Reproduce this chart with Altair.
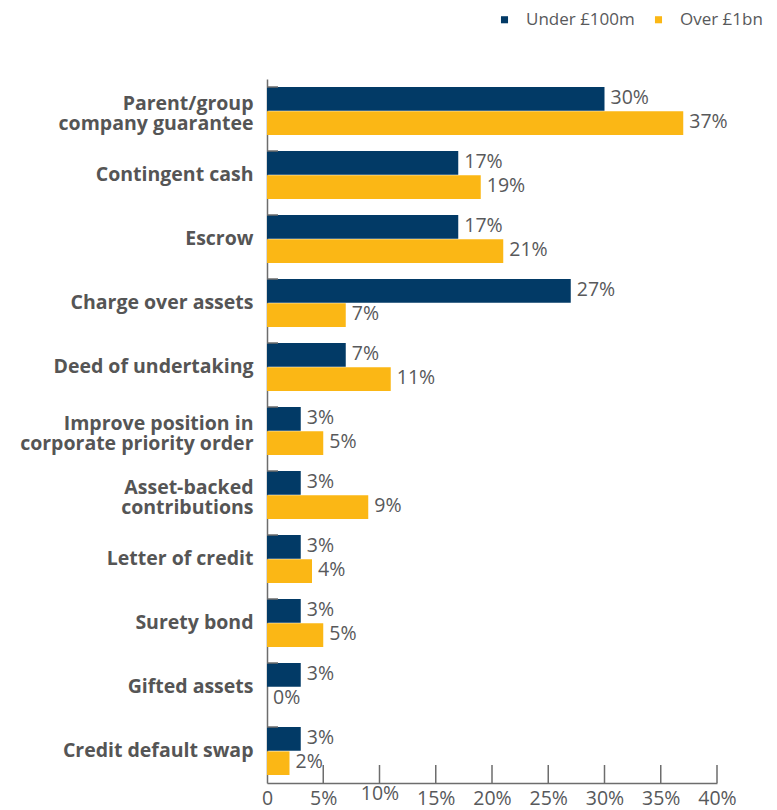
import altair as alt
import pandas as pd

categories = [
    "Parent/group|company guarantee",
    "Contingent cash",
    "Escrow",
    "Charge over assets",
    "Deed of undertaking",
    "Improve position in|corporate priority order",
    "Asset-backed|contributions",
    "Letter of credit",
    "Surety bond",
    "Gifted assets",
    "Credit default swap",
]
series_names = ["Under £100m", "Over £1bn"]
under_100m = [30, 17, 17, 27, 7, 3, 3, 3, 3, 3, 3]
over_1bn = [37, 19, 21, 7, 11, 5, 9, 4, 5, 0, 2]
x_ticks = [0, 5, 10, 15, 20, 25, 30, 35, 40]
colors = ["#023a66", "#fbb715"]

FONT = "Open Sans"
TEXT_GRAY = "#58595b"

rows = []
for c, a, b in zip(categories, under_100m, over_1bn):
    rows.append({"cat": c, "series": series_names[0], "value": a, "label": f"{a}%"})
    rows.append({"cat": c, "series": series_names[1], "value": b, "label": f"{b}%"})
df = pd.DataFrame(rows)
cat_df = pd.DataFrame({"cat": categories})
tick_df = pd.DataFrame({"value": x_ticks[1:]})

y_enc = alt.Y(
    "cat:N",
    sort=categories,
    scale=alt.Scale(paddingInner=0.25, paddingOuter=0.125),
    axis=alt.Axis(
        title=None,
        ticks=False,
        domain=True,
        domainColor="#6d6d6d",
        domainWidth=1.5,
        labelExpr="split(datum.label, '|')",
        labelFont=FONT,
        labelFontSize=19.5,
        labelFontWeight="bold",
        labelColor="#555555",
        labelPadding=14,
        labelLimit=400,
        labelLineHeight=20,
        labelOffset={"condition": {"test": "indexof(datum.label, '|') >= 0", "value": -7}, "value": 0},
    ),
)
x_enc = alt.X(
    "value:Q",
    scale=alt.Scale(domain=[0, 40], nice=False),
    axis=alt.Axis(
        title=None,
        values=x_ticks,
        ticks=False,
        grid=False,
        domainColor="#6d6d6d",
        domainWidth=1.5,
        labelExpr="datum.value == 0 ? '0' : datum.value + '%'",
        labelFont=FONT,
        labelFontSize=19.5,
        labelColor=TEXT_GRAY,
        labelPadding={"condition": {"test": "datum.value == 10", "value": 1}, "value": 6},
        labelFlush=False,
        labelOverlap=False,
    ),
)
yoff = alt.YOffset("series:N", sort=series_names, scale=alt.Scale(paddingInner=0.03))
color = alt.Color(
    "series:N",
    sort=series_names,
    scale=alt.Scale(domain=series_names, range=colors),
    legend=alt.Legend(
        title=None,
        orient="none",
        direction="horizontal",
        legendX=229,
        legendY=-68,
        symbolType="square",
        symbolSize=50,
        symbolStrokeWidth=0,
        labelFont=FONT,
        labelFontSize=17,
        labelColor=TEXT_GRAY,
        labelOffset=13,
        columnPadding=15,
    ),
)

bars = alt.Chart(df).mark_bar().encode(y=y_enc, x=x_enc, yOffset=yoff, color=color)
texts = alt.Chart(df).mark_text(
    align="left", baseline="middle", dx=6, dy=-1, font=FONT, fontSize=19.5, color=TEXT_GRAY
).encode(y=y_enc, x=x_enc, yOffset=yoff, text="label:N")
yticks = alt.Chart(cat_df).mark_rule(color="#6d6d6d", strokeWidth=1.5).encode(
    y=alt.Y("cat:N", sort=categories, bandPosition=0),
    x=alt.value(0),
    x2=alt.value(11),
)
xticks = alt.Chart(tick_df).mark_rule(color="#6d6d6d", strokeWidth=1.5).encode(
    x=alt.X("value:Q"),
    y=alt.value(686),
    y2=alt.value(704),
)

chart = (
    alt.layer(bars, texts, yticks, xticks)
    .properties(
        width=450,
        height=704,
        autosize=alt.AutoSizeParams(type="none"),
        padding={"left": 259, "top": 71, "right": 52, "bottom": 27},
    )
    .configure_view(stroke=None)
)

chart.save("out.html", embed_options={"renderer": "svg", "actions": False})
